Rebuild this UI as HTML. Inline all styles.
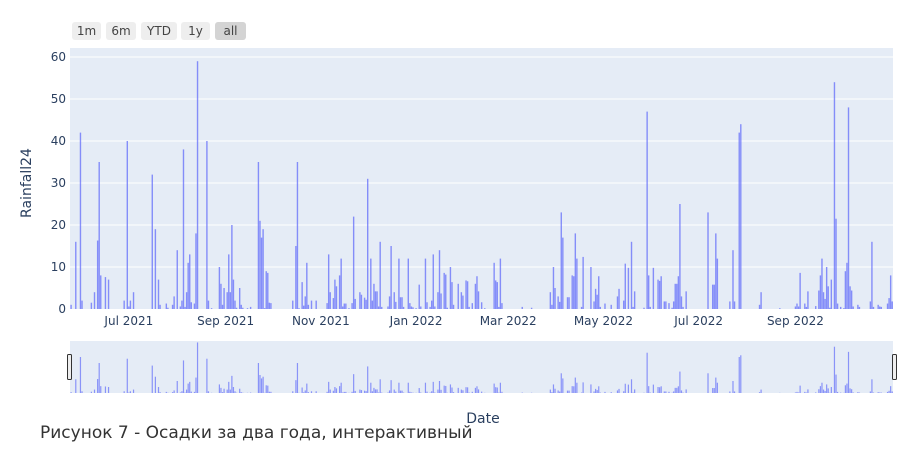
<!DOCTYPE html>
<html><head><meta charset="utf-8"><style>
body{margin:0;background:#fff;font-family:"DejaVu Sans","Liberation Sans",sans-serif;}
#wrap{position:relative;width:921px;height:451px;overflow:hidden;}
</style></head><body>
<div id="wrap">
<svg id="chart" width="921" height="451" xmlns="http://www.w3.org/2000/svg"></svg>
</div>
<script>
// day offsets relative to 2021-07-01
const days = [-37,-34,-31,-30,-24,-22,-20,-19,-18,-15,-13,-3,-1,0,1,3,15,17,19,20,24,25,28,29,31,33,34,35,36,37,38,39,40,42,43,44,50,51,53,58,59,60,61,63,64,65,66,67,68,69,71,72,73,76,78,83,84,85,86,87,88,89,90,91,105,107,108,109,111,112,113,114,115,117,120,127,128,129,131,132,133,135,136,137,138,139,141,143,144,145,148,149,151,152,153,155,156,157,158,159,160,161,162,166,167,168,170,171,173,174,175,176,179,180,181,182,184,186,187,190,191,193,194,195,196,198,199,200,202,203,204,206,207,208,211,213,214,216,217,218,220,222,223,224,226,228,234,235,236,237,238,239,252,258,270,271,272,273,275,276,277,278,281,282,284,285,286,287,290,291,296,298,299,300,301,302,305,309,313,314,317,318,320,322,323,324,330,332,333,334,336,339,340,341,343,344,346,348,349,350,351,352,353,354,355,357,371,374,375,376,377,385,387,388,391,392,404,405,417,427,428,429,430,433,434,435,440,442,443,444,445,446,447,448,449,450,452,453,454,456,458,459,460,461,462,463,464,467,468,475,476,477,480,481,482,486,487,488,489];
const rain = [1,16,42,2,1.5,4,16.3,35,8,7.6,7,2,40,0.6,2,4,32,19,7,1,1.3,0.3,1,3,14,0.6,2,38,0.5,4,11,13,1.6,1.3,18,59,40,2,0.2,10,6,1,5,4,13,4,20,7,2,0.3,5,1,0.3,0.2,0.5,35,21,17,19,0.2,9,8.6,1.5,1.4,2,15,35,0.2,6.4,0.8,3,11,1,2,2,1.4,13,4,2.6,7,5.4,8,12,0.6,1.3,1.3,0.2,1.4,22,2.4,4,3.4,2.7,2.2,31,12,2,6,4.2,4.2,0.6,16,0.5,0.6,3,15,4,1.7,12,2.8,2.8,0.5,12,1.4,0.6,0.4,0.2,5.8,0.6,12,1.6,0.5,2,13,0.6,4,14,3.7,8.6,8.2,0.3,10,6.4,1,6,4,3.2,6.8,6.6,0.5,1.4,6,7.8,4.2,1.6,0.2,11,6.8,6.4,0.5,12,1.4,0.5,0.3,4,1,10,5,3,1.7,23,17,2.8,2.8,8,7.8,18,12,0.5,12.4,10,1.8,4.8,3.4,7.8,0.5,1.3,1,3,4.8,2,10.8,9.8,16,0.5,4.2,0.3,47,8,0.5,9.8,7,6.7,7.8,1.8,1.8,1.4,0.3,1.8,6,6,7.8,25,3,0.5,4.2,23,5.8,5.8,18,12,1.8,14,1.8,42,44,1,4,0.2,0.6,1.3,0.6,8.6,1.3,0.5,4.2,0.7,4.4,8,12,4,2.4,10,5.4,0.3,7,54,21.5,1.3,0.5,0.2,9,11,48,5.4,4.4,0.6,1,0.5,1.8,16,0.5,1,0.6,0.5,1.3,2.6,8,1.8];
const yTicks = [0,10,20,30,40,50,60];
const xTickLabels = ["Jul 2021","Sep 2021","Nov 2021","Jan 2022","Mar 2022","May 2022","Jul 2022","Sep 2022"];
const xTickDays = [0,62,123,184,243,304,365,427];
const buttons = ["1m","6m","YTD","1y","all"];

const NS="http://www.w3.org/2000/svg";
const svg=document.getElementById('chart');
function mk(tag,attrs,parent){const e=document.createElementNS(NS,tag);for(const k in attrs)e.setAttribute(k,attrs[k]);(parent||svg).appendChild(e);return e;}
const PL=70,PR=893,PT=57,PB=309;
const D0=-37.7,D1=489.5;
const xs=d=>PL+(d-D0)/(D1-D0)*(PR-PL);
const ys=v=>PB-v/60*(PB-PT);
const SLT=341,SLB=393;
const ys2=v=>SLB-v/59.5*(SLB-SLT-1);

const bg=mk('rect',{x:PL,y:PT-9,width:PR-PL,height:PB-PT+9,fill:'#e5ecf6'});


yTicks.forEach(t=>{
  if(t>0){const g=mk('line',{x1:PL,x2:PR,y1:ys(t),y2:ys(t),stroke:'#fff','stroke-width':1});
  
  }
  const tx=mk('text',{x:66,y:ys(t)+4,'text-anchor':'end','font-size':12,fill:'#2a3f5f'});
  tx.textContent=t;
  
  
});
xTickDays.forEach((d,i)=>{
  const tx=mk('text',{x:xs(d),y:325,'text-anchor':'middle','font-size':12,fill:'#2a3f5f'});
  tx.textContent=xTickLabels[i];
  
  
});
days.forEach((d,i)=>{
  const v=rain[i];
  const b=mk('rect',{x:xs(d)-0.7,y:ys(v),width:1.4,height:PB-ys(v),fill:'#636efa','fill-opacity':0.75});
  
  
});
const yt=mk('text',{x:31,y:183,'text-anchor':'middle','font-size':14,fill:'#2a3f5f',transform:'rotate(-90 31 183)'});
yt.textContent='Rainfall24';


const sl=mk('rect',{x:PL,y:SLT,width:PR-PL,height:SLB-SLT,fill:'#e5ecf6'});


days.forEach((d,i)=>{
  const v=rain[i];
  const b=mk('rect',{x:xs(d)-0.6,y:ys2(v),width:1.2,height:SLB-ys2(v),fill:'#636efa','fill-opacity':0.7});
  
  
});
[PL-2,PR].forEach((hx,i)=>{
  const h=mk('rect',{x:hx-0.5,y:354.5,width:4,height:25,rx:1,fill:'#eee',stroke:'#333','stroke-width':1});
  
  
});
const xt=mk('text',{x:483,y:423,'text-anchor':'middle','font-size':14,fill:'#2a3f5f'});
xt.textContent='Date';


const cap=mk('text',{x:40,y:438,'font-size':17,fill:'#333'});
cap.textContent='Рисунок 7 - Осадки за два года, интерактивный';


const bx=[72,106,141,181,215],bw=[29,30,36,29,31];
buttons.forEach((t,i)=>{
  const r=mk('rect',{x:bx[i],y:22,width:bw[i],height:18,rx:3,fill:i==4?'#d4d4d4':'#eeeeee'});
  
  
  const tx=mk('text',{x:bx[i]+bw[i]/2,y:35,'text-anchor':'middle','font-size':12,fill:'#444'});
  tx.textContent=t;
  
  
});
</script>
</body></html>
